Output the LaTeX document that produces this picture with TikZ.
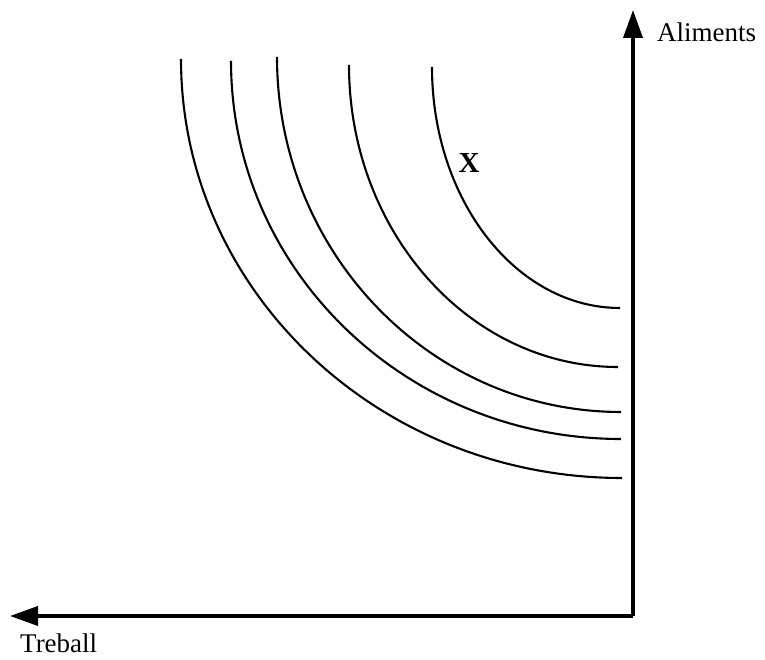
\documentclass[tikz,border=0pt]{standalone}
\usepackage{fontspec}
\setmainfont{Liberation Serif}
\usetikzlibrary{arrows.meta}
\begin{document}
\begin{tikzpicture}[x=1pt,y=1pt,
  axis/.style={line width=3.7pt,-{Triangle[length=28pt,width=19pt]}},
  curve/.style={line width=2.1pt},
  lbl/.style={inner sep=0pt,font=\fontsize{27}{30}\selectfont}]
\useasboundingbox (0,0) rectangle (765,660);
\coordinate (O) at (633,44);
\coordinate (ytip) at (633,650);
\coordinate (xtip) at (10,44);
\draw[axis] (O) -- (ytip);
\draw[axis] (O) -- (xtip);
\node[lbl,anchor=base west] (al) at (657,618) {Aliments};
\node[lbl,anchor=base west] (tr) at (20,7) {Treball};
\node[inner sep=0pt,font=\fontsize{29}{32}\selectfont\bfseries] (x) at (469,497) {X};
\draw[curve] (181,601) arc[start angle=180,end angle=270,x radius=441pt,y radius=419pt];
\draw[curve] (231,599) arc[start angle=180,end angle=270,x radius=390pt,y radius=378pt];
\draw[curve] (277,603) arc[start angle=180,end angle=270,x radius=344pt,y radius=355pt];
\draw[curve] (349,595) arc[start angle=180,end angle=270,x radius=269pt,y radius=302pt];
\draw[curve] (432,593) arc[start angle=180,end angle=270,x radius=188pt,y radius=241pt];
\end{tikzpicture}
\end{document}
